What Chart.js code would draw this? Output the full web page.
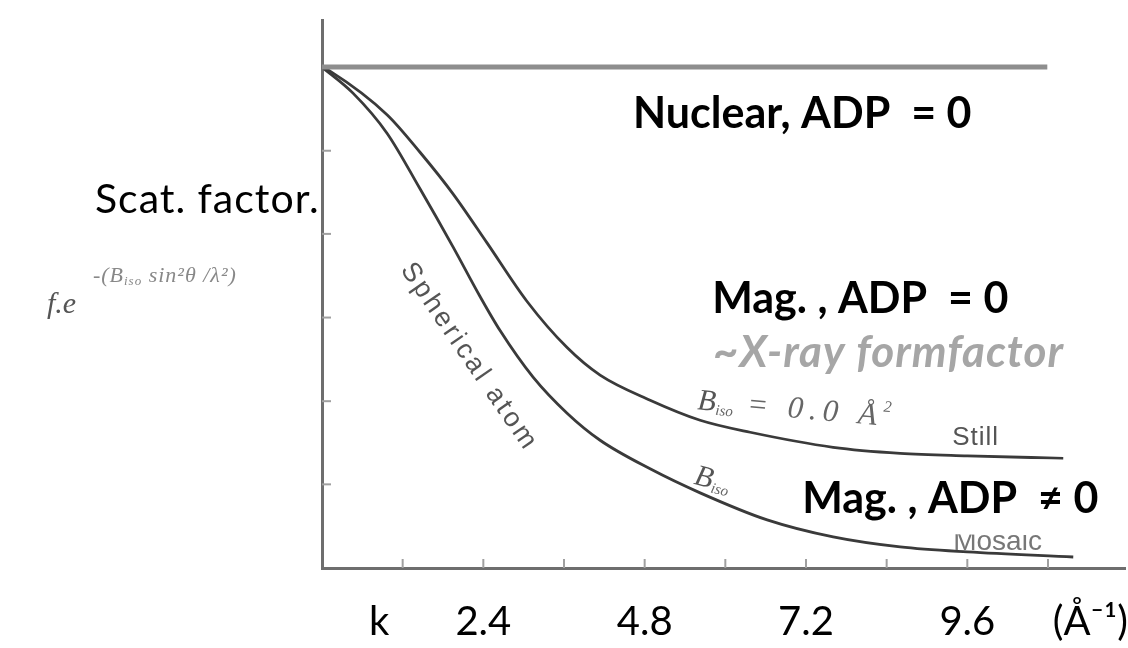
<!DOCTYPE html>
<html>
<head>
<meta charset="utf-8">
<script src="https://cdn.jsdelivr.net/npm/chart.js@4.4.1/dist/chart.umd.min.js"></script>
<style>
html,body{margin:0;padding:0;background:#fff;}
#wrap{width:1128px;height:648px;position:relative;}
</style>
</head>
<body>
<div id="wrap"><canvas id="c" width="1128" height="648"></canvas></div>
<script>
// ---- data ----
const kTickValues = [0.85, 2.4, 4.8, 7.2, 9.6, 11.43];
const kTickLabels = ['k', '2.4', '4.8', '7.2', '9.6', '(Å⁻¹)'];

const kNuclear = [0, 10.79];
const fNuclear = [1.0, 1.0];

const kMagZero = [0, 0.119, 0.967, 1.458, 1.949, 2.455, 3.051, 3.646, 4.137, 4.881, 5.625, 6.369, 7.604, 8.601, 9.598, 11.027];
const fMagZero = [1.0, 0.992, 0.905, 0.830, 0.747, 0.649, 0.532, 0.440, 0.385, 0.335, 0.295, 0.271, 0.241, 0.229, 0.224, 0.219];

const kMagADP = [0, 0.461, 0.967, 1.458, 1.949, 2.351, 2.649, 3.140, 3.646, 4.137, 4.881, 5.625, 6.622, 7.604, 8.601, 9.598, 11.176];
const fMagADP = [1.0, 0.948, 0.868, 0.757, 0.641, 0.542, 0.474, 0.381, 0.309, 0.255, 0.198, 0.150, 0.096, 0.062, 0.042, 0.032, 0.022];

const xMinorTicks = [1.2, 2.4, 3.6, 4.8, 6.0, 7.2, 8.4, 9.6, 10.8];
const yMinorTicks = [0.167, 0.333, 0.5, 0.667, 0.833];

const toPoints = (xs, ys) => xs.map((v, i) => ({x: v, y: ys[i]}));

// ---- annotation drawing ----
const REG = 'Lato';
function runs(ctx, pieces, x, y, rot) {
  ctx.save();
  ctx.translate(x, y);
  ctx.rotate((rot || 0) * Math.PI / 180);
  ctx.textBaseline = 'alphabetic';
  ctx.textAlign = 'left';
  let cx = 0;
  pieces.forEach(p => {
    ctx.font = p.font;
    ctx.fillStyle = p.color;
    ctx.letterSpacing = p.spacing || '0px';
    ctx.fillText(p.t, cx, p.dy || 0);
    cx += ctx.measureText(p.t).width;
  });
  ctx.restore();
}

const annotate = {
  id: 'annotate',
  afterDatasetsDraw(chart) {
    const {ctx, scales: {x, y}} = chart;
    const px = v => x.getPixelForValue(v);
    const py = v => y.getPixelForValue(v);
    ctx.save();
    // inward minor ticks on both axes
    ctx.strokeStyle = '#a0a0a0';
    ctx.lineWidth = 2;
    xMinorTicks.forEach(v => {
      ctx.beginPath(); ctx.moveTo(px(v), py(0)); ctx.lineTo(px(v), py(0) - 9); ctx.stroke();
    });
    yMinorTicks.forEach(v => {
      ctx.beginPath(); ctx.moveTo(px(0), py(v)); ctx.lineTo(px(0) + 9, py(v)); ctx.stroke();
    });

    const serifI = s => 'italic ' + s + 'px "Liberation Serif", serif';
    const sans = s => s + 'px "Liberation Sans", sans-serif';
    // f.e^{-(Biso sin²θ/λ²)}
    runs(ctx, [{t: 'f.e', font: serifI(30), color: '#555'}], px(-4.092), py(0.509), 0);
    runs(ctx, [{t: '-(B', font: serifI(22), color: '#888', spacing: '1px'},
               {t: 'iso', font: serifI(13), color: '#888', dy: 3, spacing: '1px'},
               {t: ' sin²θ /λ²)', font: serifI(22), color: '#888', spacing: '1px'}], px(-3.408), py(0.571), 0);

    // Spherical atom (rotated along the curve)
    ctx.save();
    ctx.translate(px(2.188), py(0.421));
    ctx.rotate(55.5 * Math.PI / 180);
    ctx.font = sans(27);
    ctx.letterSpacing = '3px';
    ctx.fillStyle = '#555';
    ctx.textAlign = 'center';
    ctx.textBaseline = 'middle';
    ctx.fillText('Spherical atom', 0, 0);
    ctx.restore();

    // B_iso = 0.0 Å²
    runs(ctx, [{t: 'B', font: serifI(30), color: '#555'},
               {t: 'iso', font: serifI(15), color: '#666', dy: 4},
               {t: ' = 0.0 Å', font: serifI(31), color: '#666', spacing: '6px'},
               {t: '2', font: serifI(16), color: '#666', dy: -14}], px(5.58), py(0.317), 5);
    // Still
    runs(ctx, [{t: 'Still', font: sans(26), color: '#555', spacing: '1px'}], px(9.375), py(0.2455), 0);
    // lower B label and Mosaic (mostly hidden by the white bubble)
    runs(ctx, [{t: 'B', font: serifI(30), color: '#555'},
               {t: 'iso', font: serifI(15), color: '#666', dy: 4}], px(5.521), py(0.168), 14);
    runs(ctx, [{t: 'Mosaic', font: sans(28), color: '#777'}], px(9.39), py(0.036), 0);

    // white bubble
    ctx.fillStyle = '#ffffff';
    ctx.beginPath();
    ctx.ellipse(px(10.238), py(0.1417), 280, 38, 0, 0, Math.PI * 2);
    ctx.fill();

    // overlay texts
    runs(ctx, [{t: 'Scat. factor.', font: '41px ' + REG, color: '#000', spacing: '1px'}], px(-3.378), py(0.709), 0);
    runs(ctx, [{t: 'Nuclear, ADP  = 0', font: 'bold 43px ' + REG, color: '#000'}], px(4.628), py(0.878), 0);
    runs(ctx, [{t: 'Mag. , ADP  = 0', font: 'bold 43px ' + REG, color: '#000'}], px(5.804), py(0.509), 0);
    runs(ctx, [{t: '~X-ray formfactor', font: 'italic bold 44px ' + REG, color: '#a6a6a6', spacing: '1px'}], px(5.818), py(0.401), 0);
    runs(ctx, [{t: 'Mag. , ADP  ≠ 0', font: 'bold 43px ' + REG, color: '#000'}], px(7.143), py(0.110), 0);
    ctx.restore();
  }
};

new Chart(document.getElementById('c'), {
  type: 'line',
  data: {
    datasets: [
      {label: 'Nuclear, ADP = 0', data: toPoints(kNuclear, fNuclear), borderColor: '#8e8e8e', borderWidth: 5, pointRadius: 0, tension: 0},
      {label: 'Mag., ADP = 0', data: toPoints(kMagZero, fMagZero), borderColor: '#3a3a3a', borderWidth: 2.8, pointRadius: 0, cubicInterpolationMode: 'monotone'},
      {label: 'Mag., ADP ≠ 0', data: toPoints(kMagADP, fMagADP), borderColor: '#3a3a3a', borderWidth: 2.8, pointRadius: 0, cubicInterpolationMode: 'monotone'}
    ]
  },
  options: {
    responsive: false,
    animation: false,
    devicePixelRatio: 1,
    layout: {padding: {left: 322, right: 2, top: 20, bottom: 2}},
    plugins: {legend: {display: false}, tooltip: {enabled: false}},
    scales: {
      x: {
        type: 'linear',
        min: 0,
        max: 11.96,
        afterBuildTicks: axis => { axis.ticks = kTickValues.map(v => ({value: v})); },
        ticks: {
          autoSkip: false,
          maxRotation: 0,
          padding: 0,
          color: '#000',
          font: {family: REG, size: 40},
          callback: (v, i) => kTickLabels[i]
        },
        grid: {display: false, drawTicks: true, tickLength: 30},
        border: {display: true, color: '#6e6e6e', width: 3}
      },
      y: {
        type: 'linear',
        min: 0,
        max: 1.094,
        ticks: {display: false},
        grid: {display: false, drawTicks: false},
        border: {display: true, color: '#6e6e6e', width: 3}
      }
    }
  },
  plugins: [annotate]
});
</script>
</body>
</html>
